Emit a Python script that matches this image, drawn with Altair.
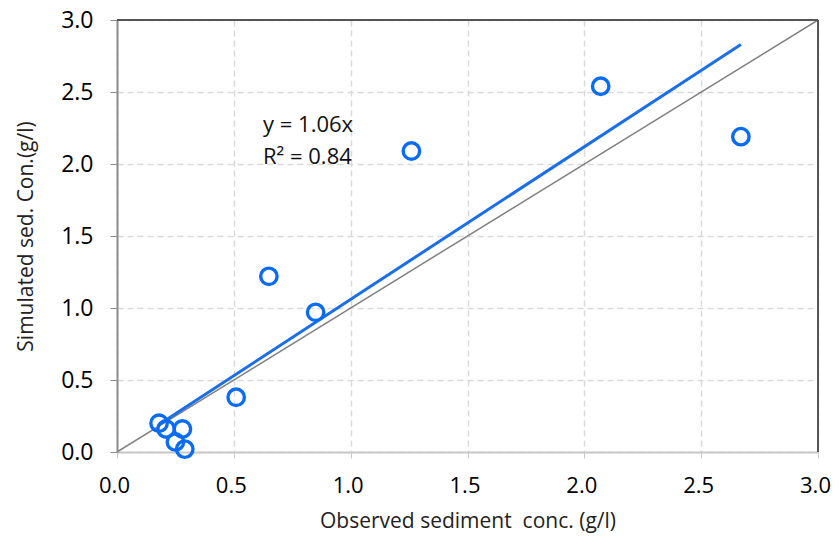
import altair as alt
import pandas as pd

observed = [0.18, 0.21, 0.28, 0.25, 0.29, 0.51, 0.65, 0.85, 1.26, 2.07, 2.67]
simulated = [0.20, 0.16, 0.16, 0.07, 0.02, 0.38, 1.22, 0.97, 2.09, 2.54, 2.19]
slope = 1.06
trend_x = [min(observed), max(observed)]
identity_x = [0.0, 3.0]
ticks = [0.0, 0.5, 1.0, 1.5, 2.0, 2.5, 3.0]
eq_lines = ["y = 1.06x", "R² = 0.84"]
eq_x = [0.625, 0.625]
eq_y = [2.27, 2.05]
frame_max = [3.0]

FONT = "Open Sans"

pts = pd.DataFrame({"obs": observed, "sim": simulated})
trend = pd.DataFrame({"obs": trend_x, "sim": [slope * v for v in trend_x]})
ident = pd.DataFrame({"obs": identity_x, "sim": identity_x})
eq = pd.DataFrame({"obs": eq_x, "sim": eq_y, "t": eq_lines})
frame = pd.DataFrame({"m": frame_max, "z": [0.0]})

xs = alt.Scale(domain=[0, 3], nice=False, zero=False)
ys = alt.Scale(domain=[0, 3], nice=False, zero=False)

common = dict(values=ticks, format=".1f", grid=True, gridDash=[6, 4],
              gridColor="#d9d9d9", gridWidth=1.5, domainWidth=2, labelFlush=False,
              labelFont=FONT, titleFont=FONT, labelColor="#000", titleColor="#222",
              titleFontWeight="normal", titleFontSize=21)

xax = alt.Axis(title="Observed sediment\u00a0 conc. (g/l)",
               domainColor="#c8c8c8", tickColor="#c8c8c8", tickSize=6,
               labelFontSize=22, labelOffset=-3,
               labelPadding=17, titlePadding=14, **common)
yax = alt.Axis(title="Simulated sed. Con.(g/l)",
               domainColor="#8c8c8c", tickColor="#8c8c8c", tickSize=7,
               labelFontSize=23,
               labelPadding=17, titlePadding=24, **common)

base = alt.Chart(ident).mark_line(color="#808080", strokeWidth=1.5, clip=True).encode(
    x=alt.X("obs:Q", scale=xs, axis=xax),
    y=alt.Y("sim:Q", scale=ys, axis=yax),
)

top_rule = alt.Chart(frame).mark_rule(color="#555555", strokeWidth=2).encode(
    x=alt.X("z:Q", scale=xs), x2="m:Q", y=alt.Y("m:Q", scale=ys)
)
right_rule = alt.Chart(frame).mark_rule(color="#555555", strokeWidth=2).encode(
    y=alt.Y("z:Q", scale=ys), y2="m:Q", x=alt.X("m:Q", scale=xs)
)

trend_line = alt.Chart(trend).mark_line(color="#1a6fe8", strokeWidth=3).encode(
    x=alt.X("obs:Q", scale=xs), y=alt.Y("sim:Q", scale=ys)
)

points = alt.Chart(pts).mark_point(shape="circle", filled=False, size=270,
                                    stroke="#0a6cf5", strokeWidth=3.4, opacity=1).encode(
    x=alt.X("obs:Q", scale=xs), y=alt.Y("sim:Q", scale=ys)
)

text = alt.Chart(eq).mark_text(align="left", baseline="middle", fontSize=22,
                               font=FONT, color="#111").encode(
    x=alt.X("obs:Q", scale=xs), y=alt.Y("sim:Q", scale=ys), text="t:N"
)

chart = alt.layer(base, top_rule, right_rule, trend_line, points, text).properties(
    width=701, height=432,
    autosize=alt.AutoSizeParams(type="none"),
    padding={"left": 109, "top": 12, "right": 13, "bottom": 84},
).configure_view(stroke=None)

chart.save("out.html", embed_options={"renderer": "svg", "actions": False})
